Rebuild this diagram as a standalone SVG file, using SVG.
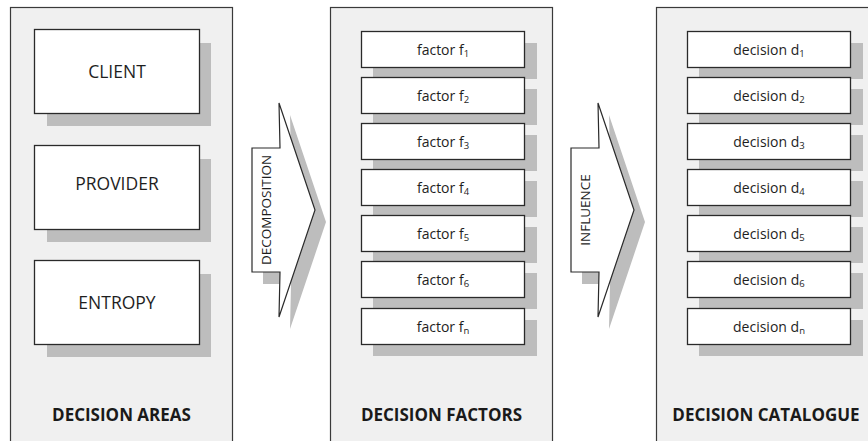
<svg xmlns="http://www.w3.org/2000/svg" width="868" height="441" viewBox="0 0 868 441">
<style>
.panel{fill:#f0f0f0;stroke:#3a3a3a;stroke-width:1.2}
.box{fill:#ffffff;stroke:#2a2a2a;stroke-width:1.3}
.sh{fill:#bdbdbd}
.big{font-family:"Open Sans","Liberation Sans",sans-serif;font-size:17.5px;fill:#1e1e1e;text-anchor:middle}
.sm{font-family:"Open Sans","Liberation Sans",sans-serif;font-size:14px;fill:#1e1e1e;text-anchor:middle}
.sub{font-size:9.5px}
.lbl{font-family:"Open Sans","Liberation Sans",sans-serif;font-size:17px;font-weight:bold;fill:#1a1a1a;text-anchor:middle}
.arr{fill:#ffffff;stroke:#2a2a2a;stroke-width:1.2}
.arrt{font-family:"Open Sans","Liberation Sans",sans-serif;font-size:13.5px;fill:#1e1e1e;text-anchor:middle}
</style>
<g id="panel-areas">
<rect class="panel" x="10.5" y="7.5" width="222" height="445"/>
<text class="lbl" x="121.5" y="421">DECISION AREAS</text>
</g>
<g id="panel-factors">
<rect class="panel" x="330.5" y="7.5" width="222" height="445"/>
<text class="lbl" x="441.5" y="421">DECISION FACTORS</text>
</g>
<g id="panel-catalogue">
<rect class="panel" x="656.5" y="7.5" width="222" height="445"/>
<text class="lbl" x="766" y="421">DECISION CATALOGUE</text>
</g>
<g id="client"><rect class="sh" x="47" y="43" width="164" height="83"/><rect class="box" x="34.5" y="29.5" width="165" height="84"/><text class="big" x="117" y="77.5">CLIENT</text></g>
<g id="provider"><rect class="sh" x="47" y="159" width="164" height="83"/><rect class="box" x="34.5" y="145.5" width="165" height="84"/><text class="big" x="117" y="189.5">PROVIDER</text></g>
<g id="entropy"><rect class="sh" x="47" y="274" width="164" height="83"/><rect class="box" x="34.5" y="260.5" width="165" height="84"/><text class="big" x="117" y="308.5">ENTROPY</text></g>
<g id="connectors">
<g id="decomposition">
<polygon class="sh" points="263,160 291,160 290,115 326,222 290,329 291,284 263,284"/>
<polygon class="arr" points="252,148 280,148 279,103 315,210 279,317 280,272 252,272"/>
<text class="arrt" transform="translate(271,210) rotate(-90)">DECOMPOSITION</text>
</g>
<g id="influence">
<polygon class="sh" points="582,160 610,160 609,115 645,222 609,329 610,284 582,284"/>
<polygon class="arr" points="571,148 599,148 598,103 634,210 598,317 599,272 571,272"/>
<text class="arrt" transform="translate(590,210) rotate(-90)">INFLUENCE</text>
</g>
</g>
<g id="f1"><rect class="sh" x="373" y="43" width="164" height="36"/><rect class="box" x="361.5" y="31.5" width="163" height="36"/><text class="sm" x="443" y="54.5">factor f<tspan class="sub" dy="2">1</tspan></text></g>
<g id="f2"><rect class="sh" x="373" y="89" width="164" height="36"/><rect class="box" x="361.5" y="77.5" width="163" height="36"/><text class="sm" x="443" y="100.5">factor f<tspan class="sub" dy="2">2</tspan></text></g>
<g id="f3"><rect class="sh" x="373" y="135" width="164" height="36"/><rect class="box" x="361.5" y="123.5" width="163" height="36"/><text class="sm" x="443" y="146.5">factor f<tspan class="sub" dy="2">3</tspan></text></g>
<g id="f4"><rect class="sh" x="373" y="181" width="164" height="36"/><rect class="box" x="361.5" y="169.5" width="163" height="36"/><text class="sm" x="443" y="192.5">factor f<tspan class="sub" dy="2">4</tspan></text></g>
<g id="f5"><rect class="sh" x="373" y="227" width="164" height="36"/><rect class="box" x="361.5" y="215.5" width="163" height="36"/><text class="sm" x="443" y="238.5">factor f<tspan class="sub" dy="2">5</tspan></text></g>
<g id="f6"><rect class="sh" x="373" y="273" width="164" height="36"/><rect class="box" x="361.5" y="261.5" width="163" height="36"/><text class="sm" x="443" y="284.5">factor f<tspan class="sub" dy="2">6</tspan></text></g>
<g id="fn"><rect class="sh" x="373" y="320" width="164" height="36"/><rect class="box" x="361.5" y="308.5" width="163" height="36"/><text class="sm" x="443" y="331.5">factor f<tspan class="sub" dy="2">n</tspan></text></g>
<g id="d1"><rect class="sh" x="699" y="43" width="164" height="36"/><rect class="box" x="687.5" y="31.5" width="163" height="36"/><text class="sm" x="769" y="54.5">decision d<tspan class="sub" dy="2">1</tspan></text></g>
<g id="d2"><rect class="sh" x="699" y="89" width="164" height="36"/><rect class="box" x="687.5" y="77.5" width="163" height="36"/><text class="sm" x="769" y="100.5">decision d<tspan class="sub" dy="2">2</tspan></text></g>
<g id="d3"><rect class="sh" x="699" y="135" width="164" height="36"/><rect class="box" x="687.5" y="123.5" width="163" height="36"/><text class="sm" x="769" y="146.5">decision d<tspan class="sub" dy="2">3</tspan></text></g>
<g id="d4"><rect class="sh" x="699" y="181" width="164" height="36"/><rect class="box" x="687.5" y="169.5" width="163" height="36"/><text class="sm" x="769" y="192.5">decision d<tspan class="sub" dy="2">4</tspan></text></g>
<g id="d5"><rect class="sh" x="699" y="227" width="164" height="36"/><rect class="box" x="687.5" y="215.5" width="163" height="36"/><text class="sm" x="769" y="238.5">decision d<tspan class="sub" dy="2">5</tspan></text></g>
<g id="d6"><rect class="sh" x="699" y="273" width="164" height="36"/><rect class="box" x="687.5" y="261.5" width="163" height="36"/><text class="sm" x="769" y="284.5">decision d<tspan class="sub" dy="2">6</tspan></text></g>
<g id="dn"><rect class="sh" x="699" y="320" width="164" height="36"/><rect class="box" x="687.5" y="308.5" width="163" height="36"/><text class="sm" x="769" y="331.5">decision d<tspan class="sub" dy="2">n</tspan></text></g>
</svg>
